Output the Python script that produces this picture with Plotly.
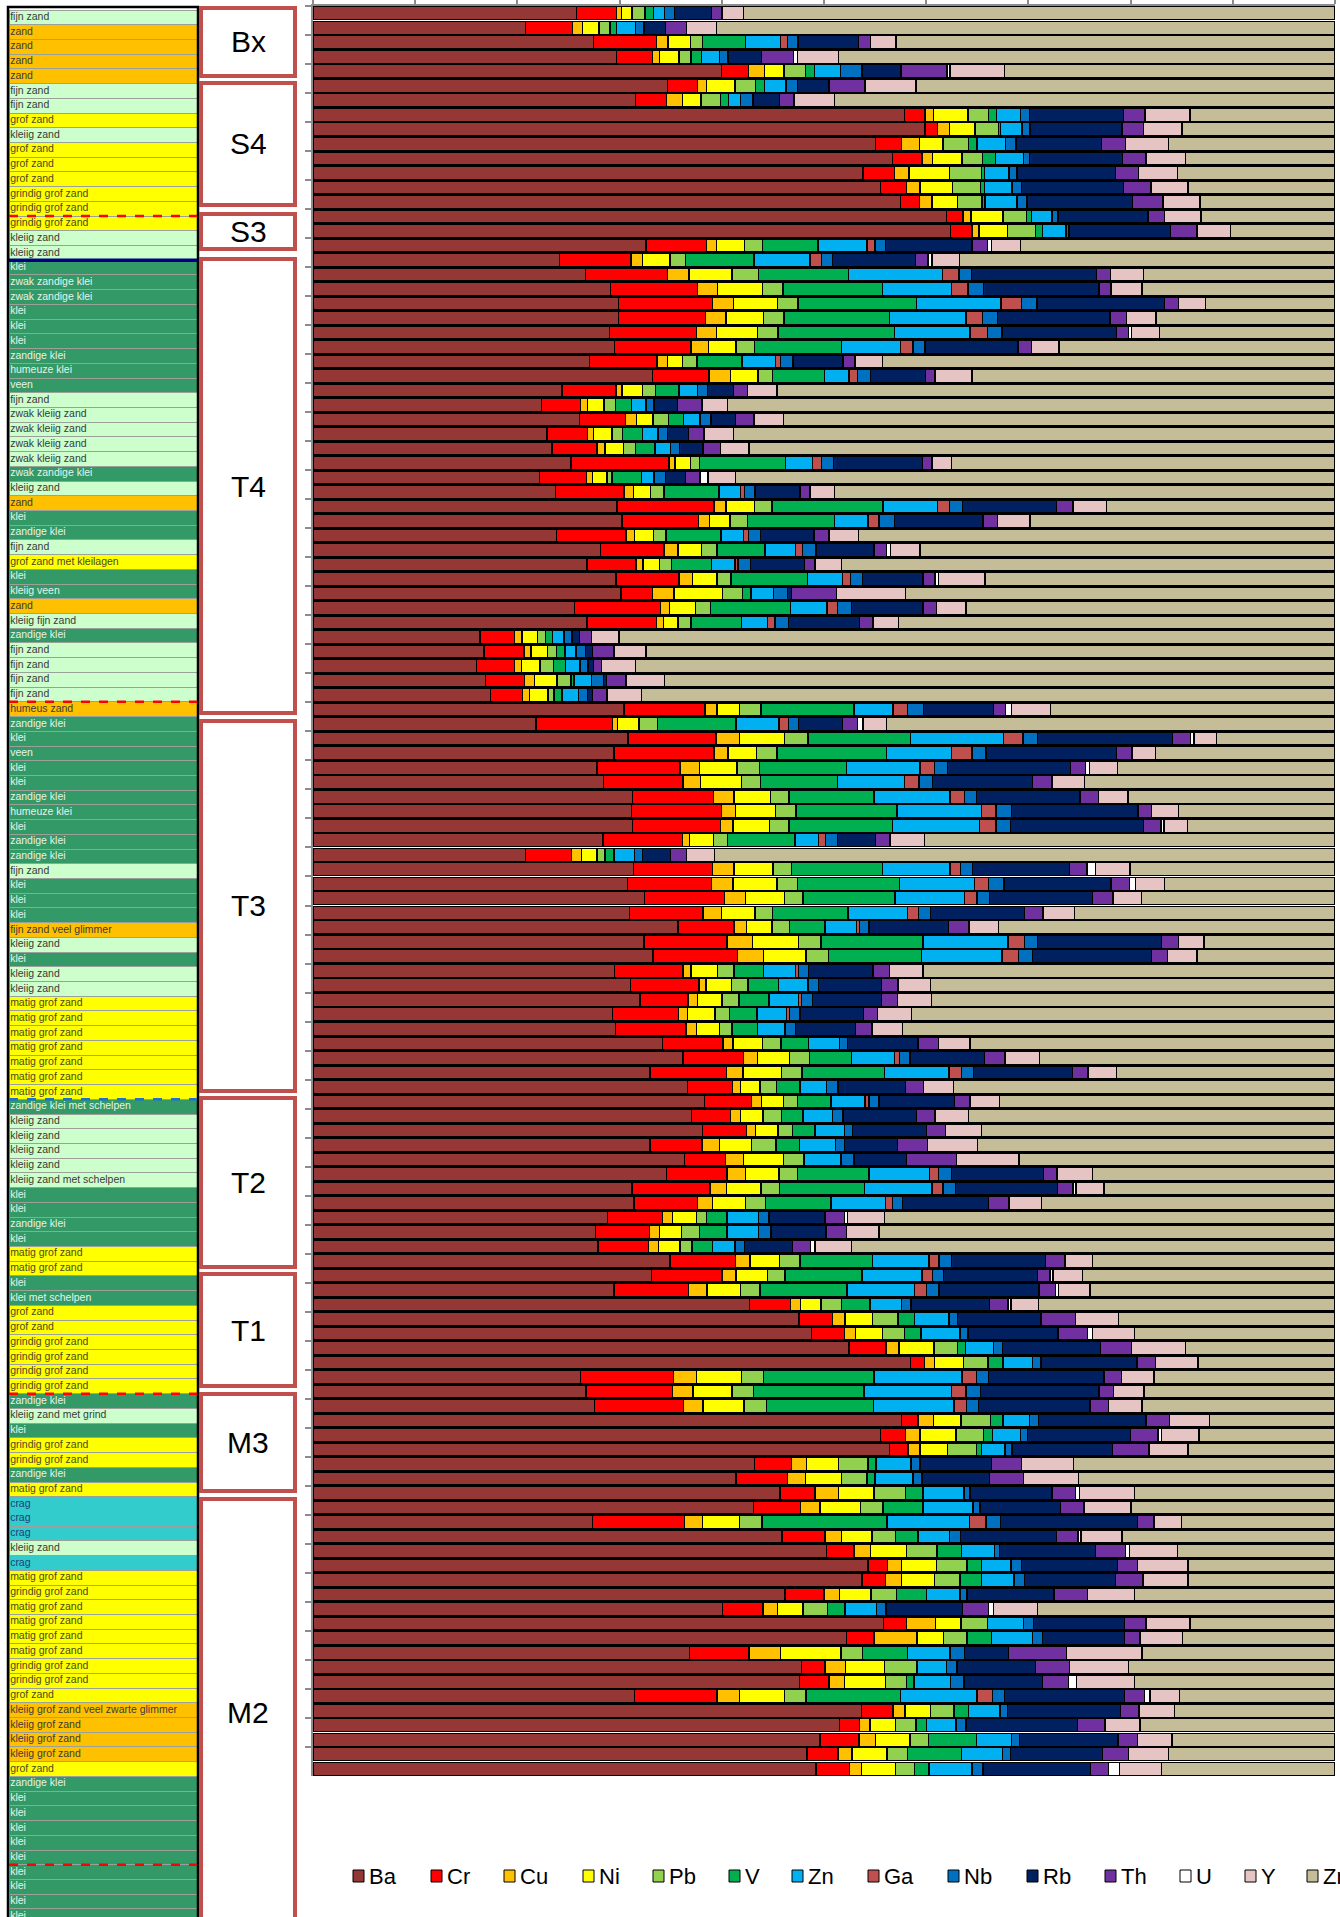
import plotly.graph_objects as go

W, H = 1340, 1917

# ---------------- data ----------------
elements = ["Ba", "Cr", "Cu", "Ni", "Pb", "V", "Zn", "Ga", "Nb", "Rb", "Th", "U", "Y", "Zr"]
colors = ["#953735", "#FF0000", "#FFC000", "#FFFF00", "#92D050", "#00B050", "#00B0F0",
          "#C0504D", "#0070C0", "#002060", "#7030A0", "#FFFFFF", "#E6C4C4", "#C4BD97"]

Ba = [25.8, 20.8, 27.4, 29.7, 39.9, 34.7, 31.6, 57.9, 60.0, 55.0,
      56.7, 53.8, 55.5, 57.4, 62.0, 62.3, 32.6, 24.1, 26.6, 29.1,
      29.9, 29.9, 29.0, 29.5, 27.1, 33.2, 24.4, 22.4, 26.1, 22.9,
      23.4, 25.2, 22.2, 23.7, 29.8, 30.3, 23.9, 28.2, 26.8, 29.7,
      30.1, 25.6, 26.8, 16.3, 16.7, 16.0, 17.0, 17.4, 30.4, 21.8,
      30.8, 29.5, 27.8, 28.4, 31.2, 31.2, 31.2, 28.4, 20.8, 31.3,
      30.8, 32.4, 31.0, 35.7, 32.4, 33.3, 29.5, 31.1, 32.0, 29.3,
      29.6, 34.2, 36.2, 33.0, 36.6, 38.4, 37.0, 38.1, 32.9, 36.3,
      34.6, 31.2, 31.4, 28.8, 27.7, 27.9, 34.9, 33.1, 29.5, 42.7,
      47.6, 48.8, 52.4, 58.5, 26.2, 26.7, 27.6, 57.6, 55.5, 56.4,
      43.2, 41.4, 45.7, 43.2, 27.3, 46.0, 50.2, 54.3, 53.7, 46.2,
      40.0, 55.8, 52.2, 36.9, 47.8, 47.6, 31.4, 53.7, 51.5, 49.5,
      48.3, 49.3]
Cr = [3.9, 4.6, 6.2, 3.5, 2.6, 2.9, 3.0, 2.0, 1.2, 2.5,
      2.9, 3.1, 2.6, 1.9, 1.6, 2.1, 5.9, 7.0, 8.0, 8.5,
      9.2, 8.5, 8.5, 7.5, 6.6, 5.5, 5.3, 3.8, 4.5, 4.0,
      4.4, 9.6, 4.6, 6.7, 9.5, 7.5, 6.8, 6.2, 4.8, 6.2,
      3.1, 8.4, 6.8, 3.4, 3.9, 3.7, 3.8, 3.1, 7.9, 7.5,
      8.6, 9.8, 8.1, 7.8, 7.9, 8.8, 8.6, 7.8, 4.5, 7.7,
      8.2, 7.8, 7.2, 5.5, 8.1, 8.3, 6.7, 6.7, 4.7, 6.4,
      6.9, 5.9, 5.9, 7.5, 4.4, 4.6, 3.8, 4.3, 5.1, 4.0,
      5.9, 7.6, 6.2, 5.4, 5.3, 4.9, 6.4, 6.9, 7.3, 4.0,
      3.3, 3.2, 3.6, 1.4, 9.1, 8.5, 8.7, 1.6, 2.5, 1.8,
      3.6, 5.0, 3.4, 4.6, 9.0, 4.2, 2.7, 1.9, 2.3, 3.8,
      4.0, 2.3, 2.7, 5.8, 2.3, 2.9, 8.1, 3.1, 2.0, 3.8,
      3.0, 3.3]
Cu = [0.5, 1.0, 1.1, 0.7, 1.6, 0.9, 1.6, 0.8, 1.2, 1.8,
      1.0, 1.4, 1.3, 1.2, 0.8, 0.7, 1.0, 1.1, 2.1, 2.0,
      2.1, 2.0, 2.0, 1.7, 1.0, 2.1, 0.6, 0.7, 1.1, 0.6,
      0.8, 0.6, 0.6, 0.9, 1.2, 1.1, 0.8, 1.4, 0.7, 1.3,
      2.1, 0.9, 0.7, 0.7, 0.7, 0.7, 1.0, 0.7, 1.2, 0.5,
      2.3, 1.4, 1.9, 1.7, 2.0, 1.4, 1.2, 0.7, 1.0, 2.1,
      2.1, 2.1, 1.8, 1.2, 2.5, 2.5, 0.8, 0.7, 0.9, 0.9,
      1.0, 1.0, 1.4, 1.6, 0.8, 1.0, 1.0, 0.9, 1.7, 1.8,
      1.8, 1.6, 1.5, 1.0, 1.0, 1.0, 1.4, 1.4, 1.8, 1.0,
      1.2, 1.1, 1.3, 1.0, 2.2, 2.0, 1.9, 1.5, 1.4, 1.2,
      1.5, 1.8, 2.3, 1.9, 1.8, 1.6, 1.6, 1.4, 1.6, 1.5,
      1.4, 2.8, 4.2, 3.1, 2.0, 1.5, 2.2, 1.2, 1.0, 1.6,
      1.4, 1.2]
Ni = [1.0, 1.6, 2.2, 1.9, 1.9, 2.8, 1.8, 3.4, 2.5, 2.3,
      2.9, 4.0, 3.2, 2.5, 3.1, 2.8, 2.7, 2.7, 4.2, 4.4,
      4.3, 3.7, 4.0, 2.7, 1.5, 2.7, 2.0, 1.6, 1.6, 1.8,
      1.8, 1.5, 1.4, 1.7, 2.8, 2.0, 1.9, 2.3, 1.6, 2.4,
      4.7, 2.5, 1.4, 1.5, 1.6, 1.8, 2.2, 1.8, 2.2, 2.1,
      4.4, 2.8, 3.7, 4.0, 3.6, 3.9, 3.6, 2.3, 1.5, 3.8,
      4.3, 3.8, 3.3, 2.5, 4.5, 4.2, 2.6, 2.5, 2.4, 2.7,
      2.3, 2.9, 3.1, 3.8, 1.9, 2.1, 2.2, 2.2, 3.1, 3.9,
      3.3, 3.4, 3.2, 2.3, 2.1, 2.1, 2.9, 3.1, 3.3, 2.0,
      2.7, 2.6, 3.4, 2.8, 4.4, 3.8, 4.0, 2.7, 3.5, 2.7,
      3.1, 3.5, 3.5, 4.0, 3.6, 3.0, 3.5, 3.4, 3.2, 3.1,
      2.5, 2.5, 2.6, 5.9, 3.8, 4.0, 4.4, 2.5, 2.5, 3.4,
      3.4, 3.3]
Pb = [1.3, 1.1, 1.2, 1.2, 2.1, 2.0, 1.9, 2.0, 2.3, 2.5,
      2.0, 3.1, 2.7, 2.4, 2.3, 2.7, 1.8, 1.5, 2.6, 2.0,
      2.0, 2.0, 2.0, 1.8, 1.4, 1.4, 1.3, 1.1, 1.5, 1.0,
      1.2, 0.9, 0.5, 1.3, 1.7, 1.7, 1.2, 1.5, 1.2, 1.4,
      2.0, 1.5, 1.3, 0.8, 0.9, 1.3, 1.4, 0.6, 2.1, 1.8,
      2.3, 2.0, 2.2, 1.9, 1.8, 2.0, 1.9, 1.4, 0.8, 1.8,
      2.0, 1.8, 1.7, 1.7, 2.2, 2.2, 1.6, 1.6, 1.7, 1.4,
      1.2, 1.8, 2.0, 2.0, 1.6, 1.4, 1.8, 1.4, 2.4, 2.0,
      1.8, 1.8, 2.0, 1.0, 1.8, 1.2, 2.0, 1.7, 1.9, 2.0,
      2.5, 2.2, 2.3, 2.4, 2.2, 2.1, 2.2, 2.9, 2.7, 2.8,
      2.9, 2.5, 3.1, 2.2, 2.2, 2.3, 3.0, 3.0, 2.5, 2.5,
      2.4, 2.6, 2.3, 2.1, 3.2, 2.1, 2.1, 2.3, 2.0, 1.8,
      2.0, 1.9]
V = [0.8, 0.6, 4.2, 1.0, 0.9, 0.9, 0.8, 0.8, 0.2, 0.8,
     1.3, 0.3, 0.4, 0.3, 0.5, 0.7, 5.4, 6.7, 8.8, 9.7,
     11.6, 10.3, 11.4, 8.5, 4.4, 5.1, 2.3, 1.6, 1.5, 2.0,
     1.9, 8.4, 2.9, 5.4, 10.9, 8.5, 5.4, 4.7, 3.9, 7.5,
     0.8, 7.8, 4.9, 0.7, 0.8, 1.2, 0.3, 0.8, 9.1, 7.7,
     10.0, 10.7, 8.5, 7.5, 8.3, 9.9, 10.1, 6.6, 0.9, 8.9,
     10.0, 9.0, 7.4, 3.5, 10.0, 9.1, 2.9, 3.0, 2.9, 2.7,
     2.5, 2.7, 4.1, 8.1, 2.3, 3.3, 2.1, 2.2, 2.3, 0.0,
     7.0, 8.3, 6.4, 2.0, 2.7, 2.0, 7.1, 7.5, 8.5, 2.8,
     1.6, 1.6, 0.8, 1.5, 10.8, 10.8, 10.5, 1.2, 0.9, 0.5,
     0.8, 0.8, 1.7, 3.9, 12.2, 2.2, 2.4, 1.4, 2.1, 2.9,
     1.7, 0.0, 2.4, 4.4, 0.0, 0.7, 9.2, 1.4, 1.0, 4.7,
     5.3, 1.4]
Zn = [1.1, 1.9, 3.4, 1.8, 2.5, 2.1, 1.2, 2.3, 2.1, 2.8,
      2.7, 2.4, 2.7, 3.1, 2.0, 2.3, 4.8, 5.5, 9.2, 6.8,
      8.3, 7.5, 7.4, 5.8, 3.3, 2.4, 1.8, 1.4, 1.6, 1.5,
      1.5, 2.6, 1.2, 2.1, 5.3, 3.3, 2.2, 3.0, 2.3, 3.4,
      2.2, 3.6, 2.6, 1.1, 1.1, 1.4, 1.7, 1.6, 3.8, 4.2,
      9.1, 6.4, 7.2, 6.6, 7.4, 8.3, 8.5, 2.3, 2.0, 6.6,
      7.3, 6.8, 5.8, 3.1, 8.3, 7.9, 3.1, 2.9, 2.9, 2.9,
      2.7, 3.0, 4.2, 6.3, 2.6, 3.3, 2.9, 2.9, 3.5, 3.6,
      5.9, 6.6, 5.3, 3.1, 3.1, 2.2, 5.5, 5.9, 6.6, 3.1,
      3.4, 3.8, 2.7, 2.9, 8.6, 8.6, 7.9, 2.6, 2.7, 2.3,
      3.4, 3.7, 4.0, 4.9, 8.1, 3.1, 3.2, 2.9, 3.2, 3.3,
      3.1, 3.5, 4.0, 4.2, 2.9, 3.6, 7.5, 3.1, 2.9, 3.4,
      4.0, 4.2]
Ga = [0, 0, 0.7, 0, 0, 0, 0, 0, 0, 0,
      0, 0, 0, 0, 0, 0, 0.8, 1.1, 1.6, 1.6,
      2.0, 1.6, 1.7, 1.2, 0.5, 0.8, 0, 0, 0, 0,
      0, 0.9, 0, 0.4, 1.2, 1.1, 0.5, 0.7, 0.3, 0.8,
      0, 1.0, 0.7, 0, 0, 0, 0, 0, 1.4, 0.9,
      1.9, 2.0, 1.4, 1.4, 1.4, 1.4, 1.6, 0.7, 0, 1.0,
      1.4, 1.2, 1.1, 0.3, 1.6, 1.6, 0.3, 0, 0.3, 0.3,
      0, 0, 0.5, 1.2, 0, 0.4, 0, 0, 0, 0,
      0.9, 1.1, 0.7, 0, 0, 0, 1.0, 1.0, 1.2, 0,
      0, 0, 0, 0, 1.4, 1.4, 1.2, 0, 0, 0,
      0, 0, 0, 0, 1.6, 0, 0, 0, 0, 0,
      0, 0, 0, 0, 0, 0, 1.5, 0, 0, 0,
      0, 0]
Nb = [1.0, 0.8, 1.0, 0.8, 2.1, 1.1, 1.2, 0.9, 0.8, 1.0,
      0.6, 0.8, 0.9, 1.0, 0.6, 0.3, 1.0, 1.1, 1.2, 1.5,
      1.5, 1.5, 1.4, 1.2, 1.2, 1.3, 1.0, 0.8, 1.1, 0.9,
      0.9, 1.2, 1.1, 1.0, 1.3, 1.5, 1.2, 1.3, 1.2, 1.2,
      1.4, 1.4, 1.3, 0.8, 0.9, 0.8, 1.2, 0.9, 1.6, 1.0,
      1.4, 1.4, 1.3, 1.3, 1.2, 1.5, 1.4, 1.2, 0.8, 1.2,
      1.5, 1.2, 1.2, 0.9, 1.3, 1.4, 1.0, 1.0, 1.1, 1.0,
      1.0, 0.8, 1.0, 1.2, 1.1, 1.0, 1.0, 0.8, 0.9, 1.3,
      1.3, 1.2, 1.0, 1.0, 1.2, 0.9, 1.2, 1.1, 1.2, 0.9,
      0.8, 0.8, 0.9, 0.8, 1.2, 1.4, 1.2, 0.9, 0.7, 0.7,
      0.9, 0.9, 0.6, 0.7, 1.4, 1.1, 0.5, 1.0, 1.0, 0.7,
      0.9, 1.0, 1.0, 1.4, 1.0, 1.3, 1.2, 0.7, 1.0, 0.8,
      0.8, 1.1]
Rb = [3.6, 2.1, 5.9, 3.3, 3.8, 3.1, 2.6, 9.2, 9.0, 8.4,
      9.1, 9.6, 10.0, 10.3, 8.8, 9.9, 8.5, 8.1, 12.2, 11.3,
      12.5, 11.0, 11.2, 9.1, 4.9, 5.4, 2.5, 2.3, 2.4, 2.1,
      2.3, 8.7, 2.0, 4.4, 9.2, 8.7, 5.2, 5.7, 5.3, 5.9,
      0.4, 7.0, 7.0, 0.7, 0.7, 0.5, 0.3, 0.5, 6.8, 4.3,
      13.2, 12.8, 12.0, 9.8, 10.1, 12.4, 13.0, 3.7, 2.7, 9.5,
      10.5, 10.1, 9.2, 7.8, 12.1, 11.6, 6.3, 6.2, 6.7, 6.2,
      5.9, 6.9, 7.3, 9.7, 6.6, 7.4, 7.2, 7.2, 5.2, 5.1,
      9.0, 10.0, 8.4, 5.5, 5.4, 4.7, 9.2, 9.2, 9.8, 7.7,
      8.2, 8.8, 9.6, 9.4, 11.3, 11.6, 10.9, 10.5, 10.1, 9.8,
      7.0, 6.6, 8.0, 7.9, 13.4, 9.4, 9.4, 9.4, 8.9, 8.5,
      7.5, 8.9, 8.0, 4.3, 7.7, 7.7, 11.7, 11.1, 10.9, 9.6,
      9.0, 10.5]
Th = [1.0, 2.1, 1.2, 3.1, 4.5, 3.5, 1.4, 2.1, 2.1, 2.3,
      2.3, 2.3, 2.7, 3.0, 1.6, 2.6, 1.5, 1.2, 1.4, 1.2,
      1.4, 1.6, 1.2, 1.3, 1.2, 0.9, 1.4, 2.4, 1.8, 1.5,
      1.7, 0.9, 1.4, 1.0, 1.6, 1.4, 1.5, 1.2, 1.0, 1.2,
      4.4, 1.3, 1.3, 1.2, 2.1, 0.8, 1.9, 1.4, 1.2, 1.5,
      1.8, 1.5, 1.5, 1.9, 1.8, 1.3, 1.7, 1.4, 1.6, 1.7,
      1.8, 2.0, 1.8, 2.0, 1.7, 1.6, 1.6, 1.6, 1.6, 1.4,
      1.6, 2.0, 2.0, 1.5, 1.8, 1.5, 1.8, 1.9, 2.9, 4.9,
      1.3, 1.5, 2.0, 1.9, 2.0, 1.8, 1.9, 1.2, 1.6, 1.8,
      3.4, 2.9, 3.0, 1.8, 1.7, 1.4, 1.8, 2.3, 2.7, 3.6,
      2.9, 3.3, 2.3, 2.3, 1.6, 2.1, 2.9, 2.0, 2.7, 3.3,
      2.5, 2.1, 1.5, 5.7, 3.3, 2.5, 2.0, 1.8, 2.7, 1.9,
      2.5, 1.8]
U = [0, 0, 0, 0.4, 0.3, 0, 0, 0, 0, 0,
     0, 0, 0, 0, 0, 0, 0.4, 0.4, 0, 0,
     0, 0, 0.3, 0, 0, 0, 0, 0, 0, 0,
     0, 0, 0.8, 0, 0, 0, 0, 0.4, 0, 0.3,
     0, 0, 0, 0, 0, 0, 0, 0, 0.6, 0.5,
     0.3, 0, 0.4, 0, 0, 0, 0.3, 0, 0, 0.8,
     0.6, 0, 0, 0, 0, 0, 0, 0, 0, 0,
     0, 0, 0, 0, 0, 0, 0, 0, 0, 0,
     0, 0.3, 0, 0.3, 0, 0.4, 0, 0.3, 0.3, 0.3,
     0, 0.5, 0, 0, 0, 0, 0, 0, 0.3, 0,
     0, 0, 0.4, 0, 0, 0.3, 0.4, 0, 0, 0,
     0.5, 0, 0, 0, 0, 0.8, 0.5, 0, 0, 0,
     0, 1.1]
Y = [2.1, 2.9, 2.5, 4.0, 5.3, 5.0, 4.0, 4.4, 3.8, 4.2,
     3.9, 3.8, 3.6, 3.6, 3.6, 3.3, 2.8, 2.7, 3.2, 3.0,
     2.6, 2.9, 2.7, 2.7, 2.7, 3.6, 2.9, 2.5, 2.9, 2.9,
     2.8, 1.9, 2.7, 2.4, 3.3, 3.2, 2.9, 2.9, 2.6, 4.6,
     6.7, 2.9, 2.5, 2.7, 3.1, 3.3, 3.8, 3.4, 3.8, 2.3,
     2.2, 2.3, 2.7, 3.2, 2.9, 2.7, 2.3, 3.4, 2.7, 3.4,
     2.8, 2.8, 3.1, 2.9, 2.5, 2.9, 3.3, 3.2, 3.3, 3.3,
     3.0, 3.1, 3.4, 2.8, 2.9, 2.9, 3.3, 3.5, 4.9, 6.1,
     3.5, 2.7, 3.2, 3.6, 3.2, 3.6, 2.7, 2.9, 3.1, 2.7,
     4.2, 4.1, 5.3, 4.2, 3.2, 3.0, 3.3, 3.9, 3.7, 3.8,
     5.1, 5.4, 5.4, 4.6, 2.7, 4.0, 4.7, 4.9, 4.4, 4.6,
     4.3, 4.3, 4.2, 7.4, 5.8, 5.7, 2.9, 3.5, 3.4, 3.4,
     3.9, 4.1]
Zr = [57.9, 60.6, 42.9, 48.6, 32.3, 41.0, 49.0, 14.2, 15.0, 16.3,
      14.6, 15.4, 14.4, 13.2, 13.1, 10.2, 30.8, 36.7, 18.7, 18.9,
      12.7, 17.5, 17.2, 27.0, 44.3, 35.5, 54.7, 59.5, 54.0, 58.9,
      57.4, 37.5, 58.7, 48.9, 22.4, 29.9, 46.7, 40.7, 48.3, 34.3,
      42.0, 36.1, 42.7, 69.9, 67.3, 68.4, 66.0, 67.9, 27.8, 43.9,
      11.6, 17.6, 21.3, 24.5, 20.2, 15.3, 14.4, 40.2, 60.8, 20.0,
      16.7, 18.9, 25.5, 32.9, 12.8, 13.5, 40.3, 39.6, 39.5, 41.4,
      42.3, 35.7, 28.9, 21.4, 37.3, 32.9, 35.8, 34.6, 34.9, 30.9,
      23.7, 22.6, 28.7, 44.1, 44.7, 47.3, 23.7, 24.7, 24.0, 29.0,
      21.2, 19.6, 14.6, 13.4, 17.7, 18.7, 18.9, 12.3, 13.3, 14.4,
      25.6, 25.1, 19.6, 20.0, 15.0, 20.9, 15.4, 14.4, 14.4, 19.6,
      29.1, 14.2, 14.9, 18.9, 20.2, 19.6, 15.2, 15.7, 19.1, 15.9,
      16.3, 17.0]

series = [Ba, Cr, Cu, Ni, Pb, V, Zn, Ga, Nb, Rb, Th, U, Y, Zr]
samples = [str(i) for i in range(1, len(Ba) + 1)]

# lithology log (top to bottom)
litho = (["fijn zand"] + ["zand"] * 4 + ["fijn zand"] * 2 + ["grof zand", "kleiig zand"]
         + ["grof zand"] * 3 + ["grindig grof zand"] * 3 + ["kleiig zand"] * 2
         + ["klei", "zwak zandige klei", "zwak zandige klei", "klei", "klei", "klei",
            "zandige klei", "humeuze klei", "veen", "fijn zand"]
         + ["zwak kleiig zand"] * 4
         + ["zwak zandige klei", "kleiig zand", "zand", "klei", "zandige klei", "fijn zand",
            "grof zand met kleilagen", "klei", "kleiig veen", "zand", "kleiig fijn zand",
            "zandige klei"]
         + ["fijn zand"] * 4
         + ["humeus zand", "zandige klei", "klei", "veen", "klei", "klei", "zandige klei",
            "humeuze klei", "klei", "zandige klei", "zandige klei", "fijn zand", "klei",
            "klei", "klei", "fijn zand veel glimmer", "kleiig zand", "klei", "kleiig zand",
            "kleiig zand"]
         + ["matig grof zand"] * 7
         + ["zandige klei met schelpen"] + ["kleiig zand"] * 4
         + ["kleiig zand met schelpen", "klei", "klei", "zandige klei", "klei",
            "matig grof zand", "matig grof zand", "klei", "klei met schelpen",
            "grof zand", "grof zand"]
         + ["grindig grof zand"] * 4
         + ["zandige klei", "kleiig zand met grind", "klei", "grindig grof zand",
            "grindig grof zand", "zandige klei", "matig grof zand", "crag", "crag", "crag",
            "kleiig zand", "crag", "matig grof zand", "grindig grof zand",
            "matig grof zand", "matig grof zand", "matig grof zand", "matig grof zand",
            "grindig grof zand", "grindig grof zand", "grof zand",
            "kleiig grof zand veel zwarte glimmer"]
         + ["kleiig grof zand"] * 3
         + ["grof zand", "zandige klei"] + ["klei"] * 9)

units = ["Bx", "S4", "S3", "T4", "T3", "T2", "T1", "M3", "M2"]

# ---------------- styling ----------------
LIGHT, ORANGE, YELLOW, DGREEN, CYAN = "#CCFFCC", "#FFC000", "#FFFF00", "#339966", "#33CCCC"
fill_of = {
    "fijn zand": LIGHT, "kleiig zand": LIGHT, "zwak kleiig zand": LIGHT,
    "kleiig fijn zand": LIGHT, "kleiig zand met schelpen": LIGHT, "kleiig zand met grind": LIGHT,
    "zand": ORANGE, "humeus zand": ORANGE, "fijn zand veel glimmer": ORANGE,
    "kleiig grof zand veel zwarte glimmer": ORANGE, "kleiig grof zand": ORANGE,
    "grof zand": YELLOW, "grindig grof zand": YELLOW, "grof zand met kleilagen": YELLOW,
    "matig grof zand": YELLOW,
    "klei": DGREEN, "zwak zandige klei": DGREEN, "zandige klei": DGREEN,
    "humeuze klei": DGREEN, "veen": DGREEN, "kleiig veen": DGREEN,
    "zandige klei met schelpen": DGREEN, "klei met schelpen": DGREEN,
    "crag": CYAN,
}
fills = [fill_of[l] for l in litho]
txtcol = {LIGHT: "#3a3a3a", ORANGE: "#3a3a3a", YELLOW: "#4a4a20", DGREEN: "#e6f2ea", CYAN: "#1c3d7a"}
tcolors = [txtcol[f] for f in fills]

FONT = "Arial, Liberation Sans, sans-serif"


def px(x):
    return x / W


def py(y):
    return 1 - y / H


fig = go.Figure()

# stacked composition bars
for name, vals, col in zip(elements, series, colors):
    fig.add_trace(go.Bar(
        x=vals, y=samples, orientation="h", name=name,
        marker=dict(color=col, line=dict(color="#000000", width=1.4)),
        xaxis="x", yaxis="y", showlegend=False, hovertemplate=name + ": %{x}<extra></extra>"))

# lithology column
rows = list(range(len(litho)))
fig.add_trace(go.Bar(
    x=[1] * len(litho), y=rows, orientation="h", width=1,
    marker=dict(color=fills, line=dict(color="#9aa09a", width=1)),
    xaxis="x2", yaxis="y2", showlegend=False, hoverinfo="skip"))
fig.add_trace(go.Scatter(
    x=[0.6] * len(litho), y=rows, mode="text", text=litho, textposition="middle right",
    textfont=dict(size=10.5, color=tcolors, family=FONT),
    xaxis="x2", yaxis="y2", showlegend=False, hoverinfo="skip"))

shapes = []
annotations = []

# border of lithology column
shapes.append(dict(type="rect", xref="paper", yref="paper", x0=px(8), x1=px(198), y0=py(1925), y1=py(7),
                   line=dict(color="#000000", width=2.5), fillcolor="rgba(0,0,0,0)", layer="above"))

# boundary lines inside lithology column
for yb, col, dash, wd in [(13.5, "#FF0000", "dash", 2.5), (46.5, "#FF0000", "dash", 2.5),
                          (93.5, "#FF0000", "dash", 2.5), (125.5, "#FF0000", "dash", 2.5),
                          (73.5, "#1F6FD0", "dash", 2.5), (16.5, "#000080", "solid", 3.5)]:
    shapes.append(dict(type="line", xref="x2", yref="y2", x0=0, x1=100, y0=yb, y1=yb,
                       line=dict(color=col, width=wd, dash=dash), layer="above"))

# unit boxes (pixel spans)
unit_spans = [(6, 78), (81, 207), (212, 251), (257, 715), (719, 1093), (1096, 1269),
              (1272, 1388), (1392, 1493), (1497, 1935)]
for name, (y0, y1) in zip(units, unit_spans):
    shapes.append(dict(type="rect", xref="paper", yref="paper", x0=px(201), x1=px(295),
                       y0=py(y1 - 2), y1=py(y0 + 2), line=dict(color="#C0504D", width=4),
                       fillcolor="#FFFFFF", layer="above"))
    yc = (y0 + min(y1, 1917)) / 2 if name != "M2" else 1712
    annotations.append(dict(xref="paper", yref="paper", x=px(248), y=py(yc), text=name,
                            showarrow=False, font=dict(size=30, color="#000000", family=FONT),
                            xanchor="center", yanchor="middle"))

# legend (manual, Excel style)
leg_x = [353, 431, 504, 583, 653, 729, 792, 868, 948, 1027, 1105, 1180, 1245, 1307]
leg_y = 1876
for name, col, lx in zip(elements, colors, leg_x):
    shapes.append(dict(type="rect", xref="paper", yref="paper", x0=px(lx), x1=px(lx + 11),
                       y0=py(leg_y + 6), y1=py(leg_y - 6), fillcolor=col,
                       line=dict(color="#000000", width=1)))
    annotations.append(dict(xref="paper", yref="paper", x=px(lx + 14), y=py(leg_y), text=name,
                            showarrow=False, xanchor="left", yanchor="middle",
                            font=dict(size=22, color="#000000", family=FONT)))

fig.update_layout(
    width=W, height=H, autosize=False, margin=dict(l=0, r=0, t=0, b=0),
    paper_bgcolor="white", plot_bgcolor="white",
    barmode="stack", barnorm="percent", bargap=0.1,
    xaxis=dict(domain=[px(313), px(1335)], range=[0, 100], side="top", anchor="y",
               showgrid=False, zeroline=False, showticklabels=False, ticks="outside",
               ticklen=6, tickcolor="#8c8c8c", tickwidth=1.5, dtick=10, tick0=0,
               showline=True, linecolor="#8c8c8c", linewidth=1.5),
    yaxis=dict(domain=[py(1776), py(6)], type="category", autorange="reversed", anchor="x",
               showticklabels=False, ticks="outside", ticklen=6, tickcolor="#8c8c8c",
               tickwidth=1.5, tickson="boundaries", showline=True, linecolor="#8c8c8c",
               linewidth=1.5, showgrid=False, zeroline=False),
    xaxis2=dict(domain=[px(9), px(197)], range=[0, 100], visible=False, anchor="y2"),
    yaxis2=dict(domain=[0, py(10)], range=[129.05, -0.5], visible=False, anchor="x2"),
    shapes=shapes, annotations=annotations,
)

fig.write_html("out.html", config={"displayModeBar": False},
               post_script="document.body.style.margin='0px';document.body.style.padding='0px';"
                           "document.body.style.overflow='hidden';")
